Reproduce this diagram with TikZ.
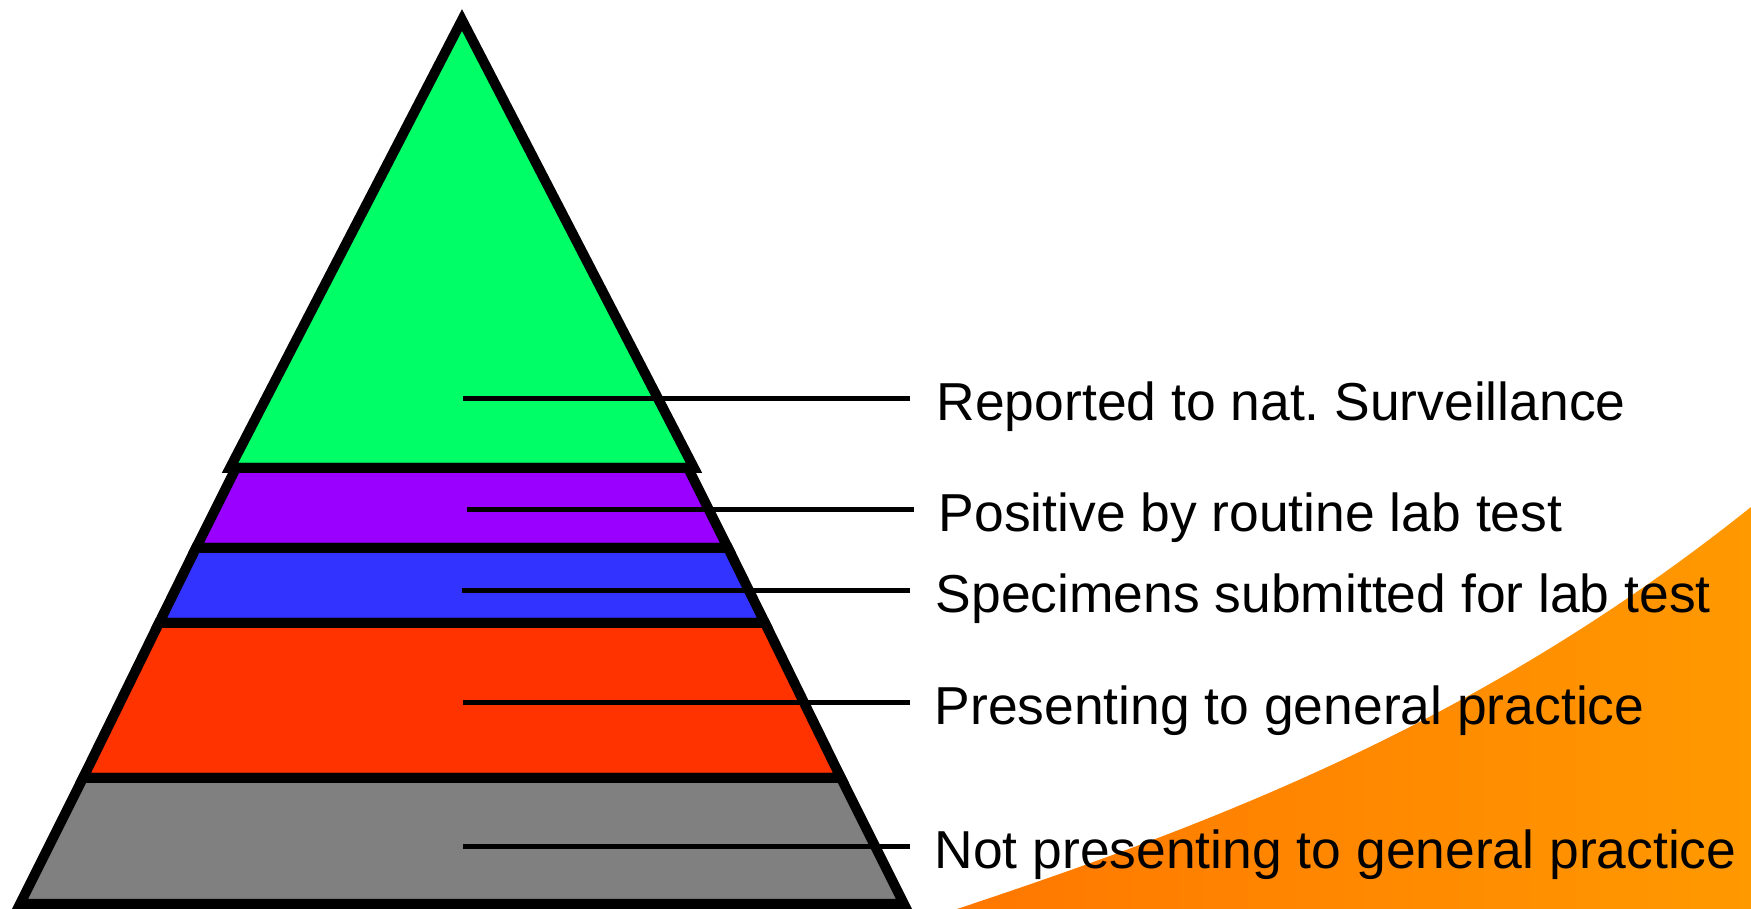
\documentclass[tikz,border=0pt]{standalone}
\usepackage{fontspec}
\setmainfont{Liberation Sans}
\usepackage{xcolor}
\usepackage{tikz}
\frenchspacing

\definecolor{layergreen}{RGB}{0,255,102}
\definecolor{layerpurple}{RGB}{153,0,255}
\definecolor{layerblue}{RGB}{51,51,255}
\definecolor{layerred}{RGB}{255,51,0}
\definecolor{layergrey}{RGB}{128,128,128}
\definecolor{swooshleft}{RGB}{255,119,0}
\definecolor{swooshright}{RGB}{255,153,0}

\begin{document}
\begin{tikzpicture}[
  layer/.style={draw=black,line width=1mm,line join=miter},
  pointer/.style={line width=0.45mm},
  lbl/.style={font=\fontsize{15.2}{18}\selectfont,inner sep=0pt,anchor=base west}]
\useasboundingbox (0,0) rectangle (17.51,9.09);
% orange swoosh in the corner
\shade[left color=swooshleft,right color=swooshright] (9.57,0) .. controls (12.22,0.88) and (14.86,1.90) .. (17.51,4.02) -- (17.51,0) -- cycle;

% pyramid, top to bottom
\filldraw[layer,fill=layergreen] (4.62,8.89) -- (2.30,4.41) -- (6.94,4.41) -- cycle;
\filldraw[layer,fill=layerpurple] (2.36,4.41) -- (6.88,4.41) -- (7.28,3.61) -- (1.96,3.61) -- cycle;
\filldraw[layer,fill=layerblue] (1.96,3.61) -- (7.28,3.61) -- (7.65,2.86) -- (1.59,2.86) -- cycle;
\filldraw[layer,fill=layerred] (1.59,2.86) -- (7.65,2.86) -- (8.41,1.31) -- (0.83,1.31) -- cycle;
\filldraw[layer,fill=layergrey] (0.83,1.31) -- (8.41,1.31) -- (9.04,0.05) -- (0.20,0.05) -- cycle;

% pointer ends
\coordinate (rep-in) at (4.63,5.105);   \coordinate (rep-out) at (9.10,5.105);
\coordinate (pos-in) at (4.67,3.995);   \coordinate (pos-out) at (9.14,3.995);
\coordinate (spec-in) at (4.62,3.185);  \coordinate (spec-out) at (9.10,3.185);
\coordinate (pres-in) at (4.63,2.065);  \coordinate (pres-out) at (9.10,2.065);
\coordinate (notp-in) at (4.63,0.625);  \coordinate (notp-out) at (9.10,0.625);

\draw[pointer] (rep-in) -- (rep-out);
\draw[pointer] (pos-in) -- (pos-out);
\draw[pointer] (spec-in) -- (spec-out);
\draw[pointer] (pres-in) -- (pres-out);
\draw[pointer] (notp-in) -- (notp-out);

% labels
\node[lbl] (rep) at (9.36,4.885) {Reported to nat. Surveillance};
\node[lbl] (pos) at (9.38,3.775) {Positive by routine lab test};
\node[lbl] (spec) at (9.35,2.965) {Specimens submitted for lab test};
\node[lbl] (pres) at (9.34,1.845) {Presenting to general practice};
\node[lbl] (notp) at (9.34,0.405) {Not presenting to general practice};
\end{tikzpicture}
\end{document}
